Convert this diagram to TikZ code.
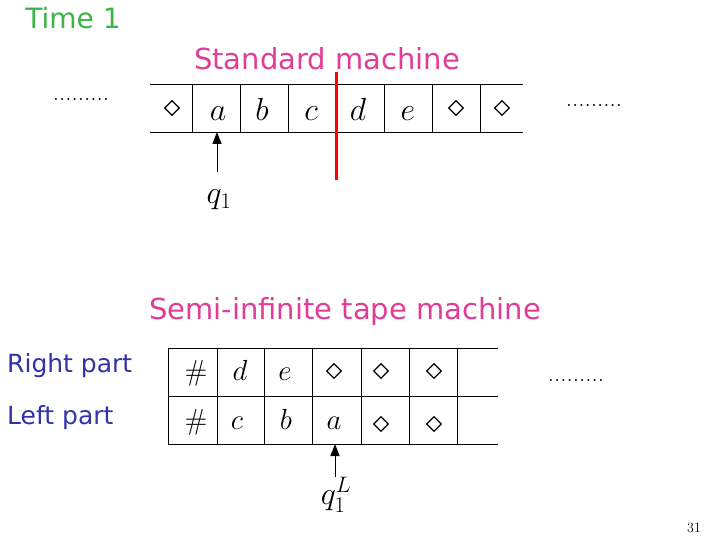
\RequirePackage{fix-cm}
\documentclass[tikz,border=0pt]{standalone}
\usepackage{amsmath,amssymb}
\usepackage{fontspec}
\newfontfamily\comicfont{DejaVu Sans}
\usepackage{tikz}
\usetikzlibrary{arrows.meta,calc,positioning,shapes.geometric}

\definecolor{timegreen}{RGB}{60,180,70}
\definecolor{titlepink}{RGB}{225,60,150}
\definecolor{partblue}{RGB}{50,50,170}

\begin{document}
\begin{tikzpicture}[x=1pt,y=-1pt,>={Triangle[length=12pt,width=9pt]},
  sym/.style={inner sep=0pt,anchor=base,font=\fontsize{32}{34}\selectfont},
  blank/.style={diamond,draw,line width=1.2pt,minimum width=15pt,minimum height=15pt,inner sep=0pt},
  heading/.style={font=\comicfont\fontsize{29}{32}\selectfont,inner sep=0pt},
  part/.style={font=\comicfont\fontsize{25}{28}\selectfont,inner sep=0pt,text=partblue,anchor=west},
  dots/.style={font=\fontsize{25}{28}\selectfont,inner sep=0pt}]
\useasboundingbox (0,0) rectangle (720,540);
% standard machine
\node[heading,text=timegreen,font=\comicfont\fontsize{28}{30}\selectfont] (time) at (73,18) {Time 1};
\node[heading,text=titlepink] (std) at (327,59) {Standard machine};
\draw (150,84) -- (523,84) (150,132) -- (523,132);
\foreach \x in {192,240,288,384,432,480} \draw (\x,84) -- (\x,132);
\foreach \x/\n in {172/s0,456/s6,502/s7}
  \node[blank] (\n) at (\x,108) {};
\foreach \x/\s/\n in {218/a/s1,262/b/s2,311/c/s3,358/d/s4,408/e/s5}
  \node[sym] (\n) at (\x,121) {$\s$};
\draw[red,line width=3pt] (336,72) -- (336,180);
\node[dots] (ldots) at (81,99) {.........};
\node[dots] (rdots) at (594,105) {.........};
\node[sym,anchor=center] (q1) at (219,200) {$q_1$};
\coordinate (tipstd) at (217,132);
\draw[->,thick] (217,172) -- (tipstd);
% semi-infinite tape machine
\node[heading,text=titlepink] (semi) at (345,311) {Semi-infinite tape machine};
\node[part] (right) at (7,366) {Right part};
\node[part] (left) at (7,418) {Left part};
\draw (168,348) -- (498,348) (168,396) -- (498,396) (168,444) -- (498,444);
\foreach \x in {168,217,264,312,361,409,457} \draw (\x,348) -- (\x,444);
\foreach \x/\s/\n in {196/\#/r0,240/d/r1,285/e/r2}
  \node[sym,font=\fontsize{29}{31}\selectfont] (\n) at (\x,380) {$\s$};
\foreach \x/\n in {334/r3,381/r4,434/r5}
  \node[blank] (\n) at (\x,371) {};
\foreach \x/\s/\n in {196/\#/l0,237/c/l1,286/b/l2,334/a/l3}
  \node[sym,font=\fontsize{29}{31}\selectfont] (\n) at (\x,429) {$\s$};
\foreach \x/\n in {381/l4,434/l5}
  \node[blank] (\n) at (\x,424) {};
\node[dots] (sdots) at (576,380) {.........};
\node[sym,anchor=center] (q1L) at (336,495) {$q_1^L$};
\coordinate (tipsemi) at (335,444);
\draw[->,thick] (335,477) -- (tipsemi);
\node[font=\fontsize{14}{16}\selectfont] (page) at (694,528) {31};
\end{tikzpicture}
\end{document}
